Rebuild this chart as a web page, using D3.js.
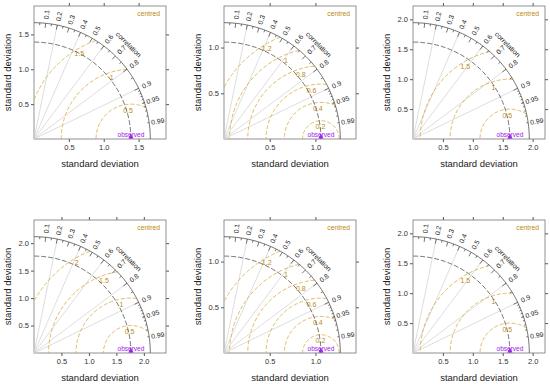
<!DOCTYPE html>
<html>
<head>
<meta charset="utf-8">
<script src="https://cdn.jsdelivr.net/npm/d3@7"></script>
<style>
  body { margin: 0; background: #fff; }
  text { font-family: "Liberation Sans", Arial, sans-serif; }
</style>
</head>
<body>
<div class="canvas"></div>
<script>
// observed standard deviation for each panel (row by row)
const observedSd = [1.39, 1.06, 1.62, 1.765, 1.06, 1.62];

// centred RMS contours shown in each panel
const rmsLevels = [
  [0.5, 1, 1.5],
  [0.2, 0.4, 0.6, 0.8, 1, 1.2],
  [0.5, 1, 1.5],
  [0.5, 1, 1.5, 2],
  [0.2, 0.4, 0.6, 0.8, 1, 1.2],
  [0.5, 1, 1.5]
];

// standard deviation tick labels on each panel
const sdTicks = [
  [0.5, 1, 1.5],
  [0.5, 1],
  [0.5, 1, 1.5, 2],
  [0.5, 1, 1.5, 2],
  [0.5, 1],
  [0.5, 1, 1.5, 2]
];

// correlation labels round the outer arc, and the grey rays
const corrLabels = [0.1, 0.2, 0.3, 0.4, 0.5, 0.6, 0.7, 0.8, 0.9, 0.95, 0.99];
const corrRays = [0.2, 0.4, 0.6, 0.8, 0.9];

//------------------------ layout
const panelLeft = [34, 224, 413];
const panelTop = [6, 220];
const boxW = 132, boxH = 133;

const rmsLine = '#d8a63a';
const rmsText = '#c08a10';
const obsCol = '#a020f0';
const arcCol = '#505050';

const svg = d3.select('.canvas')
  .append('svg')
  .attr('width', 550)
  .attr('height', 386);

const fmt = d3.format('.1f');

observedSd.forEach((obs, i) => {
  const col = i % 3, row = Math.floor(i / 3);
  const left = panelLeft[col], top = panelTop[row], bottom = top + boxH;
  const maxsd = 1.2 * obs;
  const lim = 1.135 * maxsd;

  const x = d3.scaleLinear().domain([0, lim]).range([left, left + boxW]);
  const y = d3.scaleLinear().domain([0, lim]).range([bottom, bottom - boxW]);
  const pt = (r, a) => [x(r * Math.cos(a)), y(r * Math.sin(a))];

  const g = svg.append('g');

  // axes (labels on left & bottom, bare ticks on top & right)
  const styleAxis = sel => {
    sel.select('.domain').remove();
    sel.selectAll('line').attr('stroke', '#555');
    sel.selectAll('text').attr('font-size', 7.5).attr('fill', '#333')
      .style('font-family', '"Liberation Sans", Arial, sans-serif');
  };
  g.append('g').attr('transform', `translate(0,${bottom})`)
    .call(d3.axisBottom(x).tickValues(sdTicks[i]).tickFormat(fmt).tickSize(3).tickPadding(3))
    .call(styleAxis);
  g.append('g').attr('transform', `translate(${left},0)`)
    .call(d3.axisLeft(y).tickValues(sdTicks[i]).tickFormat(fmt).tickSize(3).tickPadding(2))
    .call(styleAxis);
  g.append('g').attr('transform', `translate(0,${top})`)
    .call(d3.axisTop(x).tickValues(sdTicks[i]).tickFormat('').tickSize(3))
    .call(styleAxis);
  g.append('g').attr('transform', `translate(${left + boxW},0)`)
    .call(d3.axisRight(y).tickValues(sdTicks[i]).tickFormat('').tickSize(3))
    .call(styleAxis);

  g.append('rect')
    .attr('x', left).attr('y', top)
    .attr('width', boxW).attr('height', boxH)
    .attr('fill', 'none').attr('stroke', '#777').attr('stroke-width', 0.8);

  // axis titles
  g.append('text')
    .attr('x', left + boxW / 2).attr('y', bottom + 27.5)
    .attr('text-anchor', 'middle').attr('font-size', 9.5).attr('fill', '#222')
    .text('standard deviation');
  g.append('text')
    .attr('transform', `translate(${left - 26.5},${top + boxH / 2}) rotate(-90)`)
    .attr('text-anchor', 'middle').attr('dy', '0.35em')
    .attr('font-size', 9.5).attr('fill', '#222')
    .text('standard deviation');

  // grey correlation rays
  g.selectAll('.ray').data(corrRays).enter().append('line')
    .attr('x1', x(0)).attr('y1', y(0))
    .attr('x2', d => pt(maxsd, Math.acos(d))[0])
    .attr('y2', d => pt(maxsd, Math.acos(d))[1])
    .attr('stroke', '#cfcfcf').attr('stroke-width', 0.7);

  const quarter = d3.range(0, 91).map(k => k * Math.PI / 180);
  const line = d3.line();

  // centred RMS arcs round the observed point
  const levels = rmsLevels[i];
  const gmax = d3.max(levels);
  levels.forEach(gm => {
    const c0 = (maxsd * maxsd - obs * obs - gm * gm) / (2 * obs * gm);
    const th0 = c0 >= 1 ? 0 : Math.acos(Math.max(-1, c0));
    const c1 = -obs / gm;
    const th1 = c1 <= -1 ? Math.PI : Math.acos(c1);
    const pts = d3.range(0, 81).map(k => {
      const a = th0 + (th1 - th0) * k / 80;
      return [x(obs + gm * Math.cos(a)), y(gm * Math.sin(a))];
    });
    g.append('path').attr('d', line(pts))
      .attr('fill', 'none').attr('stroke', rmsLine)
      .attr('stroke-width', 0.8).attr('stroke-dasharray', '4,2');

    const la = (85 + 34 * Math.pow(gm / gmax, 1.3)) * Math.PI / 180;
    g.append('text')
      .attr('x', x(obs + gm * Math.cos(la)) - 1)
      .attr('y', y(gm * Math.sin(la)) + 6)
      .attr('dy', '0.35em').attr('text-anchor', 'middle')
      .attr('font-size', 7).attr('fill', rmsText)
      .text(gm);
  });

  // observed sd arc (dashed) and outer arc
  g.append('path').attr('d', line(quarter.map(a => pt(obs, a))))
    .attr('fill', 'none').attr('stroke', arcCol).attr('stroke-width', 0.8)
    .attr('stroke-dasharray', '5,2');
  g.append('path').attr('d', line(quarter.map(a => pt(maxsd, a))))
    .attr('fill', 'none').attr('stroke', arcCol).attr('stroke-width', 0.8);

  // correlation ticks on the outer arc
  const tickSets = [
    [d3.range(1, 10).map(k => k / 10), 0.04],
    [d3.range(0, 10).map(k => 0.05 + k / 10), 0.02],
    [d3.range(1, 10).map(k => 0.9 + k / 100), 0.015]
  ];
  tickSets.forEach(([vals, len]) => {
    g.selectAll(null).data(vals).enter().append('line')
      .attr('x1', d => pt(maxsd, Math.acos(d))[0])
      .attr('y1', d => pt(maxsd, Math.acos(d))[1])
      .attr('x2', d => pt(maxsd * (1 - len), Math.acos(d))[0])
      .attr('y2', d => pt(maxsd * (1 - len), Math.acos(d))[1])
      .attr('stroke', arcCol).attr('stroke-width', 0.8);
  });

  // correlation labels
  g.selectAll(null).data(corrLabels).enter().append('text')
    .attr('transform', d => {
      const a = Math.acos(d);
      const p = pt(maxsd * 1.075, a);
      return `translate(${p[0]},${p[1]}) rotate(${-a * 180 / Math.PI})`;
    })
    .attr('text-anchor', 'middle').attr('dy', '0.35em')
    .attr('font-size', 6.8).attr('fill', '#222')
    .text(d => d);

  const cp = pt(maxsd * 1.15, Math.PI / 4);
  g.append('text')
    .attr('transform', `translate(${cp[0]},${cp[1]}) rotate(45)`)
    .attr('text-anchor', 'middle').attr('dy', '0.35em')
    .attr('font-size', 7).attr('fill', '#222')
    .text('correlation');

  // legend-ish label
  g.append('text')
    .attr('x', left + boxW - 6).attr('y', top + 9.5)
    .attr('text-anchor', 'end').attr('font-size', 6.8).attr('fill', rmsText)
    .text('centred');

  // observed point
  g.append('path')
    .attr('d', d3.symbol(d3.symbolTriangle).size(12))
    .attr('transform', `translate(${x(obs)},${bottom - 2})`)
    .attr('fill', obsCol);
  g.append('text')
    .attr('x', x(obs)).attr('y', bottom - 2.5)
    .attr('text-anchor', 'middle').attr('font-size', 6.5).attr('fill', obsCol)
    .text('observed');
});
</script>
</body>
</html>
